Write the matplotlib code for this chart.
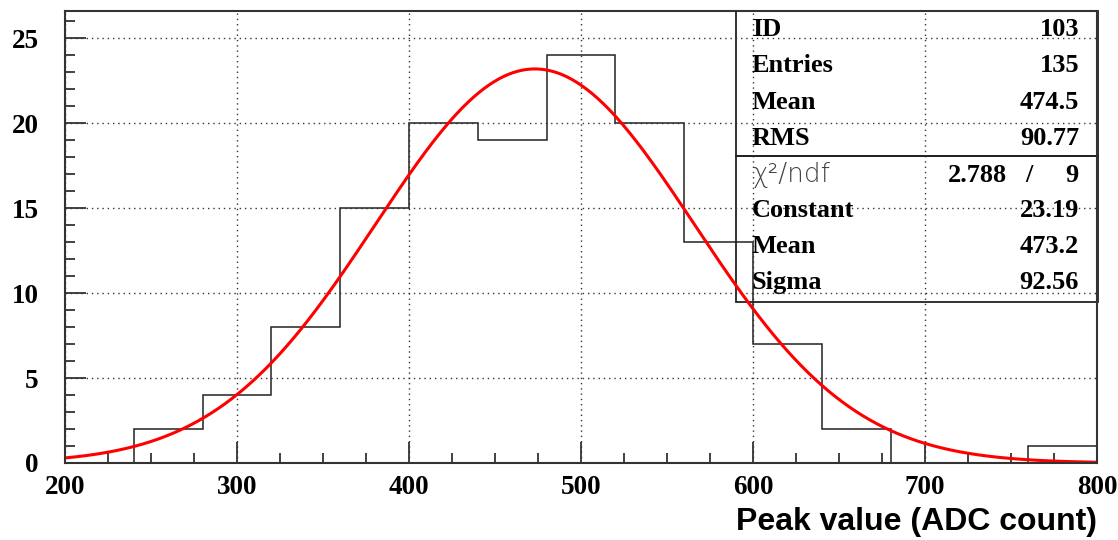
import numpy as np
import matplotlib
matplotlib.use("Agg")
import matplotlib.pyplot as plt
from matplotlib.ticker import MultipleLocator
from matplotlib.patches import Rectangle

# histogram data (bins of 40 ADC counts)
bin_edges = [200, 240, 280, 320, 360, 400, 440, 480, 520, 560, 600, 640, 680, 720, 760, 800]
counts = [0, 2, 4, 8, 15, 20, 19, 24, 20, 13, 7, 2, 0, 0, 1]

# gaussian fit parameters shown in the stats box
fit_constant = 23.19
fit_mean = 473.2
fit_sigma = 92.56

stats_top = [("ID", "103"), ("Entries", "135"), ("Mean", "474.5"), ("RMS", "90.77")]
stats_fit = [("Constant", "23.19"), ("Mean", "473.2"), ("Sigma", "92.56")]
chi2_text = ("2.788", "/", "9")

serif = "Liberation Serif"

fig = plt.figure(figsize=(11.18, 5.40), dpi=100)
ax = fig.add_axes([65 / 1118, 1 - 463 / 540, 1032 / 1118, 452 / 540])

# histogram outline
ax.stairs(counts, bin_edges, color="#222222", lw=1.1, baseline=0)

# fit curve
xf = np.linspace(bin_edges[0], bin_edges[-1], 600)
yf = fit_constant * np.exp(-0.5 * ((xf - fit_mean) / fit_sigma) ** 2)
ax.plot(xf, yf, color="red", lw=2.2)

ax.set_xlim(200, 800)
ax.set_ylim(0, 26.6)

# ROOT-like axes
ax.xaxis.set_major_locator(MultipleLocator(100))
ax.xaxis.set_minor_locator(MultipleLocator(25))
ax.yaxis.set_major_locator(MultipleLocator(5))
ax.yaxis.set_minor_locator(MultipleLocator(1))
ax.tick_params(which="major", direction="in", length=15, width=1.3, color="#333333")
ax.tick_params(which="minor", direction="in", length=7.5, width=1.3, color="#333333")
ax.tick_params(axis="y", which="both", right=False)
ax.tick_params(axis="x", which="major", pad=9)
ax.tick_params(axis="y", which="major", pad=19)
for lab in ax.get_xticklabels() + ax.get_yticklabels():
    lab.set_fontfamily(serif)
    lab.set_fontweight("bold")
    lab.set_fontsize(19.5)
for s in ax.spines.values():
    s.set_linewidth(1.5)
    s.set_color("#333333")

ax.grid(True, which="major", linestyle=(0, (1, 2.8)), color="#333333", lw=1.0)

ax.set_xlabel("Peak value (ADC count)", fontfamily="Liberation Sans", fontweight="bold",
              fontsize=23, loc="right", labelpad=5)

# stats box
x0 = (736 - 65) / 1032
ymid = (463 - 156) / 452
ybot = (463 - 302) / 452
ax.add_patch(Rectangle((x0, ymid), 1.001 - x0, 1 - ymid, transform=ax.transAxes,
                       fill=False, lw=1.3, ec="#222222", clip_on=False))
ax.add_patch(Rectangle((x0, ybot), 1.001 - x0, ymid - ybot, transform=ax.transAxes,
                       fill=False, lw=1.3, ec="#222222", clip_on=False))

def ay(py):
    return (463 - py) / 452

def axx(px):
    return (px - 65) / 1032

lx = axx(752)
rx = axx(1079)
tkw = dict(transform=ax.transAxes, fontfamily=serif, fontweight="bold", fontsize=19,
           va="baseline")
for (name, val), py in zip(stats_top, [36, 72, 109, 145]):
    ax.text(lx, ay(py), name, ha="left", **tkw)
    ax.text(rx, ay(py), val, ha="right", **tkw)

ax.text(lx, ay(182), "χ²/ndf", transform=ax.transAxes, fontfamily="DejaVu Sans",
        fontweight="light", fontsize=19, color="#444444", va="baseline", ha="left")
ax.text(axx(1007), ay(182), chi2_text[0], ha="right", **tkw)
ax.text(axx(1029), ay(182), chi2_text[1], ha="center", **tkw)
ax.text(rx, ay(182), chi2_text[2], ha="right", **tkw)

for (name, val), py in zip(stats_fit, [217, 253, 289]):
    ax.text(lx, ay(py), name, ha="left", **tkw)
    ax.text(rx, ay(py), val, ha="right", **tkw)

fig.savefig("out.png", dpi=100)
